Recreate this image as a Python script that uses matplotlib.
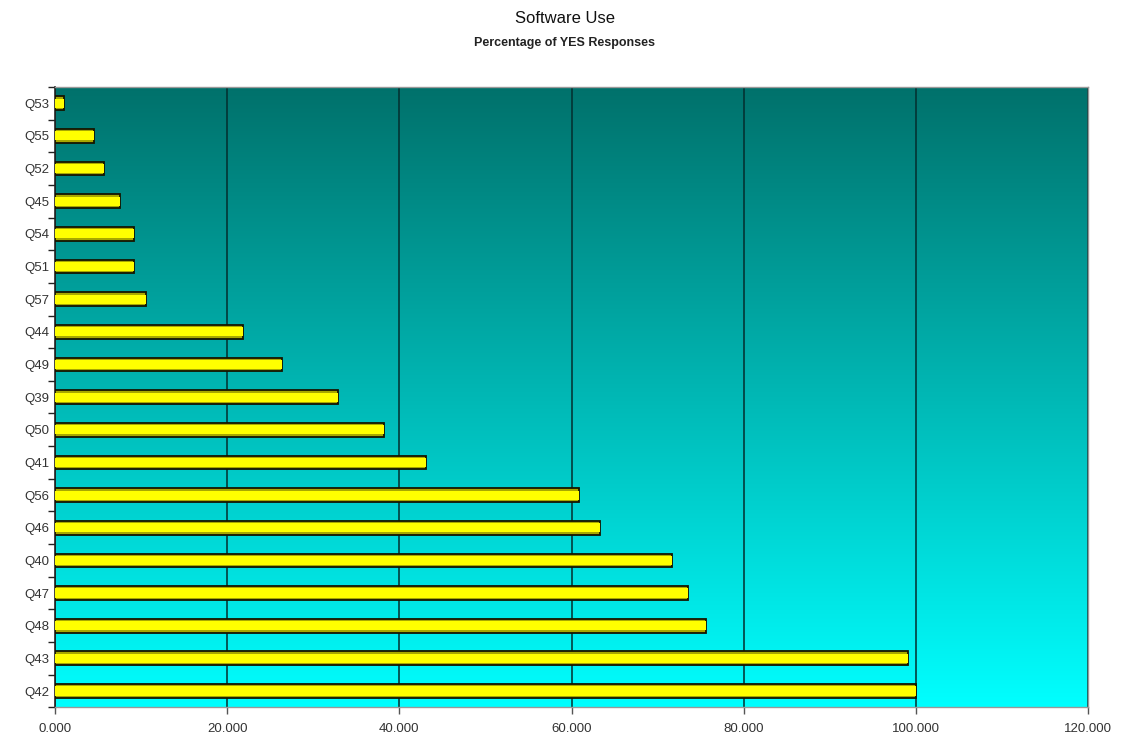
import numpy as np
import matplotlib.pyplot as plt
from matplotlib.colors import LinearSegmentedColormap
from matplotlib.ticker import FormatStrFormatter, FixedLocator

plt.rcParams['font.family'] = ['Liberation Sans', 'DejaVu Sans']

# questions, listed from the bottom bar up
questions = ["Q42", "Q43", "Q48", "Q47", "Q40", "Q46", "Q56", "Q41", "Q50", "Q39",
             "Q49", "Q44", "Q57", "Q51", "Q54", "Q45", "Q52", "Q55", "Q53"]
yes_pct = [100.0, 99.1, 75.6, 73.5, 71.7, 63.3, 60.9, 43.1, 38.2, 32.9,
           26.4, 21.8, 10.6, 9.2, 9.2, 7.5, 5.7, 4.5, 1.0]

fig = plt.figure(figsize=(11.23, 7.43), dpi=100)
ax = fig.add_axes([0.049, 0.048, 0.920, 0.835])

# teal-to-cyan background
bg = LinearSegmentedColormap.from_list("bg", ["#00FFFF", "#00716B"])
grad = np.linspace(0, 1, 256).reshape(-1, 1)
ax.imshow(grad, cmap=bg, aspect="auto", origin="lower",
          extent=[0, 1, 0, 1], transform=ax.transAxes, zorder=0)

y = np.arange(len(questions))

# bars: olive rim with a bright yellow core for the raised look
ax.barh(y, yes_pct, height=0.42, color="#A8A800", edgecolor="#151500",
        linewidth=1.3, zorder=3)
ax.barh(y, yes_pct, height=0.28, color="#FFFF00", linewidth=0, zorder=4)

ax.set_xlim(0, 120)
ax.set_ylim(-0.5, len(questions) - 0.5)

ax.xaxis.set_major_locator(FixedLocator([0, 20, 40, 60, 80, 100, 120]))
ax.xaxis.set_major_formatter(FormatStrFormatter("%.3f"))
ax.grid(axis="x", color="#032e2e", linewidth=1.1, zorder=1)
ax.set_axisbelow(True)

ax.set_yticks(y)
ax.set_yticklabels(questions)
ax.set_yticks(np.arange(-0.5, len(questions)), minor=True)
ax.tick_params(axis="y", which="major", length=0, pad=4, labelsize=9.5,
               labelcolor="#333333")
ax.tick_params(axis="y", which="minor", length=5, width=1, color="#222222")
ax.tick_params(axis="x", length=5, width=1, color="#555555", labelsize=9.5,
               labelcolor="#333333", pad=6)

for side in ["top", "right", "bottom"]:
    ax.spines[side].set_color("#999999")
    ax.spines[side].set_linewidth(1)
ax.spines["left"].set_color("#222222")
ax.spines["left"].set_linewidth(1.2)

fig.text(0.503, 0.975, "Software Use", ha="center", va="center",
         fontsize=12, color="#111111")
fig.text(0.503, 0.942, "Percentage of YES Responses", ha="center",
         va="center", fontsize=9, fontweight="bold", color="#222222")

fig.savefig("out.png", dpi=100)
